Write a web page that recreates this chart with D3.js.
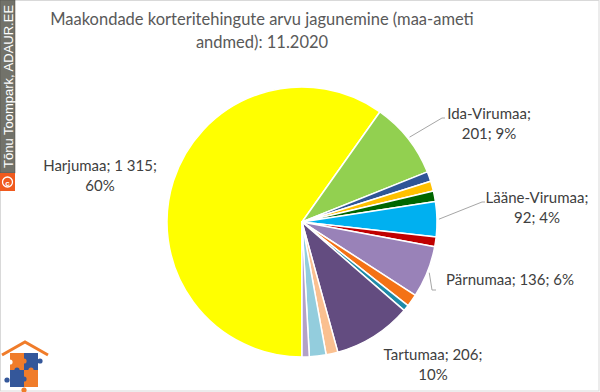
<!DOCTYPE html>
<html>
<head>
<meta charset="utf-8">
<script src="https://cdn.jsdelivr.net/npm/d3@7"></script>
<style>
  html, body { margin: 0; padding: 0; background: #fff; }
  svg { display: block; }
  .title { font-family: Lato, "Open Sans", sans-serif; fill: #595959; }
  .label { font-family: Lato, "Open Sans", sans-serif; fill: #404040; }
</style>
</head>
<body>
<div id="chart"></div>
<script>
// slices in clockwise order, Harjumaa first
const counties = ["Harjumaa", "Ida-Virumaa", "Jõgevamaa", "Järvamaa", "Läänemaa",
  "Lääne-Virumaa", "Põlvamaa", "Pärnumaa", "Raplamaa", "Saaremaa", "Tartumaa",
  "Valgamaa", "Viljandimaa", "Võrumaa"];
const deals = [1315, 201, 26, 26, 28, 92, 26, 136, 33, 16, 206, 31, 44, 19];
const colors = ["#ffff00", "#92d050", "#2f5597", "#ffc000", "#006600", "#00b0f0",
  "#c00000", "#9982b8", "#f47216", "#1f8ba8", "#634c80", "#fac090", "#93cddd", "#b3a2c7"];
// percentages as printed on the chart
const shownPct = {"Harjumaa": "60%", "Ida-Virumaa": "9%", "Lääne-Virumaa": "4%", "Pärnumaa": "6%", "Tartumaa": "10%"};
const titleLines = ["Maakondade korteritehingute arvu jagunemine (maa-ameti", "andmed): 11.2020"];

const W = 600, H = 392;
const cx = 302, cy = 222, R = 135;

const fmt = d3.formatLocale({decimal: ",", thousands: " ", grouping: [3], currency: ["", "€"]}).format(",d");

// label placement: x centre, first baseline, line breaks, leader end
const labelLayout = {
  "Harjumaa":      {x: 100, y: 171, split: 1, lead: null},
  "Ida-Virumaa":   {x: 489, y: 119, split: 0, lead: [[442, 118], [445, 118]]},
  "Lääne-Virumaa": {x: 537, y: 203, split: 0, lead: [[482, 202], [485, 202]]},
  "Pärnumaa":      {x: 510, y: 285, split: -1, lead: [[432, 290], [436, 290]]},
  "Tartumaa":      {x: 433, y: 360, split: 1, lead: null}
};

const svg = d3.select("#chart").append("svg")
  .attr("width", W).attr("height", H);

svg.append("rect")
  .attr("x", 0.5).attr("y", 0.5).attr("width", W - 1.5).attr("height", H - 1.5)
  .attr("fill", "#fff").attr("stroke", "#d9d9d9");

svg.append("text").attr("class", "title")
  .attr("text-anchor", "middle")
  .style("font-size", "16.5px")
  .selectAll("tspan").data(titleLines).join("tspan")
  .attr("x", 262).attr("y", (d, i) => 25 + i * 23)
  .text(d => d);

const data = counties.map((c, i) => ({name: c, value: deals[i], color: colors[i]}));

const pie = d3.pie().sort(null).value(d => d.value)
  .startAngle(Math.PI).endAngle(3 * Math.PI);
const arcs = pie(data);
const arc = d3.arc().innerRadius(0).outerRadius(R);
const edge = d3.arc().innerRadius(R + 2).outerRadius(R + 2);

const g = svg.append("g").attr("transform", `translate(${cx},${cy})`);
g.selectAll("path.slice").data(arcs).join("path")
  .attr("class", "slice")
  .attr("d", arc)
  .attr("fill", d => d.data.color)
  .attr("stroke", "#fff")
  .attr("stroke-width", 1.5)
  .attr("stroke-linejoin", "round");

// leader lines
const labelled = arcs.filter(d => labelLayout[d.data.name]);
labelled.filter(d => labelLayout[d.data.name].lead).forEach(d => {
  const p = edge.centroid(d);
  const pts = [[cx + p[0], cy + p[1]]].concat(labelLayout[d.data.name].lead);
  svg.append("path")
    .attr("d", d3.line()(pts))
    .attr("fill", "none")
    .attr("stroke", "#a6a6a6")
    .attr("stroke-width", 1);
});

// data labels: "name; value; pct"
const total = d3.sum(deals);
labelled.forEach(d => {
  const L = labelLayout[d.data.name];
  const parts = [d.data.name + ";", fmt(d.data.value) + ";", shownPct[d.data.name] || d3.format(".0%")(d.data.value / total)];
  let lines;
  if (L.split === 1) lines = [parts[0] + " " + parts[1], parts[2]];
  else if (L.split === 0) lines = [parts[0], parts[1] + " " + parts[2]];
  else lines = [parts.join(" ")];
  svg.append("text").attr("class", "label")
    .attr("text-anchor", "middle")
    .style("font-size", "15px")
    .selectAll("tspan").data(lines).join("tspan")
    .attr("x", L.x).attr("y", (t, i) => L.y + i * 19.5)
    .text(t => t);
});

// copyright strip on the left
const wm = svg.append("g");
wm.append("rect").attr("x", 0).attr("y", 0).attr("width", 15).attr("height", 173)
  .attr("fill", "#72726a").attr("stroke", "#4a4a44").attr("stroke-width", 0.5);
wm.append("rect").attr("x", 0).attr("y", 173).attr("width", 15).attr("height", 18)
  .attr("fill", "#f05a1e");
wm.append("circle").attr("cx", 7.5).attr("cy", 182).attr("r", 5)
  .attr("fill", "none").attr("stroke", "#fff").attr("stroke-width", 1.3);
wm.append("text").attr("x", 7.6).attr("y", 185.5)
  .attr("text-anchor", "middle")
  .style("font-family", "'Liberation Sans', Arial, sans-serif")
  .style("font-size", "8px").style("font-weight", "bold")
  .attr("fill", "#fff").text("c");
wm.append("text")
  .attr("transform", "translate(12.5,168) rotate(-90)")
  .style("font-family", "'Liberation Sans', Arial, sans-serif")
  .style("font-size", "13px")
  .attr("fill", "#fff")
  .text("Tõnu Toompark, ADAUR.EE");

// house logo bottom left
const logo = svg.append("g");
logo.append("path").attr("d", "M2,355 L25,342 L48,355")
  .attr("fill", "none").attr("stroke", "#f07c2a").attr("stroke-width", 3);
const q = [[10, 353, "#f07c2a"], [24, 353, "#34579a"], [10, 370, "#34579a"], [24, 370, "#f07c2a"]];
q.forEach(([x, y, c]) => {
  logo.append("rect").attr("x", x).attr("y", y).attr("width", 14).attr("height", 17).attr("fill", c);
});
[[24, 361, "#f07c2a"], [17, 370, "#34579a"], [31, 370, "#f07c2a"], [24, 379, "#34579a"],
 [40, 361, "#34579a"], [7, 380, "#34579a"], [10, 362, "#fff"], [24, 390, "#f07c2a"]].forEach(([x, y, c]) => {
  logo.append("circle").attr("cx", x).attr("cy", y).attr("r", 2.6).attr("fill", c);
});
</script>
</body>
</html>
